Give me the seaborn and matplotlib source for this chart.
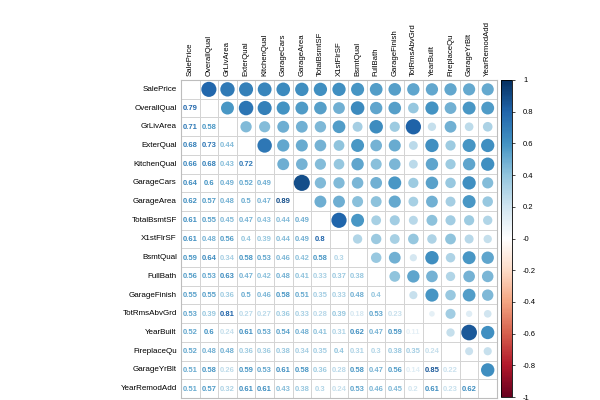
import numpy as np
import pandas as pd
import matplotlib
matplotlib.use('Agg')
import matplotlib.pyplot as plt
import seaborn as sns
from matplotlib.colors import LinearSegmentedColormap, ListedColormap, Normalize
from matplotlib.cm import ScalarMappable

names = ['SalePrice', 'OverallQual', 'GrLivArea', 'ExterQual', 'KitchenQual', 'GarageCars',
         'GarageArea', 'TotalBsmtSF', 'X1stFlrSF', 'BsmtQual', 'FullBath', 'GarageFinish',
         'TotRmsAbvGrd', 'YearBuilt', 'FireplaceQu', 'GarageYrBlt', 'YearRemodAdd']

# lower triangle, row by row
lower = [
    [],
    [0.79],
    [0.71, 0.58],
    [0.68, 0.73, 0.44],
    [0.66, 0.68, 0.43, 0.72],
    [0.64, 0.6, 0.49, 0.52, 0.49],
    [0.62, 0.57, 0.48, 0.5, 0.47, 0.89],
    [0.61, 0.55, 0.45, 0.47, 0.43, 0.44, 0.49],
    [0.61, 0.48, 0.56, 0.4, 0.39, 0.44, 0.49, 0.8],
    [0.59, 0.64, 0.34, 0.58, 0.53, 0.46, 0.42, 0.58, 0.3],
    [0.56, 0.53, 0.63, 0.47, 0.42, 0.48, 0.41, 0.33, 0.37, 0.38],
    [0.55, 0.55, 0.36, 0.5, 0.46, 0.58, 0.51, 0.35, 0.33, 0.48, 0.4],
    [0.53, 0.39, 0.81, 0.27, 0.27, 0.36, 0.33, 0.28, 0.39, 0.18, 0.53, 0.23],
    [0.52, 0.6, 0.24, 0.61, 0.53, 0.54, 0.48, 0.41, 0.31, 0.62, 0.47, 0.59, 0.11],
    [0.52, 0.48, 0.48, 0.36, 0.36, 0.38, 0.34, 0.35, 0.4, 0.31, 0.3, 0.38, 0.35, 0.24],
    [0.51, 0.58, 0.26, 0.59, 0.53, 0.61, 0.58, 0.36, 0.28, 0.58, 0.47, 0.56, 0.14, 0.85, 0.22],
    [0.51, 0.57, 0.32, 0.61, 0.61, 0.43, 0.38, 0.3, 0.24, 0.53, 0.46, 0.45, 0.2, 0.61, 0.23, 0.62],
]

n = len(names)
corr = np.eye(n)
for i, row in enumerate(lower):
    for j, v in enumerate(row):
        corr[i, j] = v
        corr[j, i] = v

cmap = LinearSegmentedColormap.from_list('corrplot', [
    '#67001F', '#B2182B', '#D6604D', '#F4A582', '#FDDBC7', '#FFFFFF',
    '#D1E5F0', '#92C5DE', '#4393C3', '#2166AC', '#053061'])
norm = Normalize(-1, 1)

plt.rcParams['font.family'] = ['Liberation Sans', 'DejaVu Sans']
fig = plt.figure(figsize=(6, 4), dpi=100)
ax = fig.add_axes([181 / 600, 1 - 398 / 400, 316 / 600, 318 / 400])

# white grid
sns.heatmap(pd.DataFrame(np.zeros((n, n)), index=names, columns=names),
            cmap=ListedColormap(['white']), cbar=False, linewidths=0.7,
            linecolor='#d4d4d4', ax=ax)

# circles in upper triangle
up = [(names[j], names[i], corr[i, j], j + 0.5, i + 0.5)
      for i in range(n) for j in range(n) if j > i]
up_df = pd.DataFrame(up, columns=['col', 'row', 'r', 'x', 'y'])
sns.scatterplot(data=up_df, x='x', y='y', hue='r', size='r', palette=cmap,
                hue_norm=(-1, 1), size_norm=(0, 1), sizes=(0, 150),
                linewidth=0, legend=False, ax=ax)

# numbers in lower triangle
for i in range(n):
    for j in range(i):
        v = corr[i, j]
        ax.text(j + 0.5, i + 0.52, f'{v:g}', ha='center', va='center',
                fontsize=5.5, fontweight='bold', color=cmap(norm(v)))

ax.set_xlim(0, n)
ax.set_ylim(n, 0)
ax.set_xlabel('')
ax.set_ylabel('')
ax.xaxis.tick_top()
ax.set_xticks(np.arange(n) + 0.5)
ax.set_xticklabels(names, rotation=90, fontsize=5.6)
ax.set_yticks(np.arange(n) + 0.5)
ax.set_yticklabels(names, rotation=0, fontsize=5.8)
ax.tick_params(length=0, pad=3)
for s in ax.spines.values():
    s.set_visible(True)
    s.set_color('#bdbdbd')
    s.set_linewidth(0.8)

# colour bar
cax = fig.add_axes([501 / 600, 1 - 397 / 400, 11 / 600, 317 / 400])
cb = fig.colorbar(ScalarMappable(norm=norm, cmap=cmap), cax=cax)
ticks = np.round(np.arange(-1, 1.01, 0.2), 1)
cb.set_ticks(ticks)
cb.set_ticklabels([f'{t:g}' for t in ticks])
cb.ax.tick_params(labelsize=5.5, length=2, width=0.5, pad=6)
cb.outline.set_linewidth(0.6)

fig.savefig('out.png', dpi=100)
